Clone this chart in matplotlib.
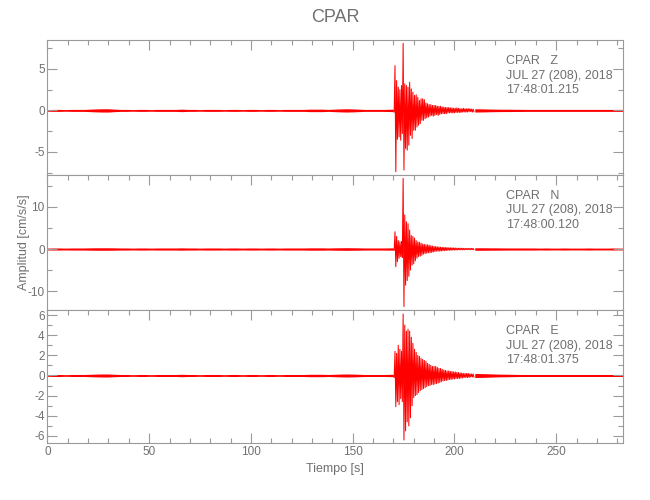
import numpy as np
import matplotlib
matplotlib.use('Agg')
import matplotlib.pyplot as plt
from matplotlib.ticker import MultipleLocator

plt.rcParams['font.family'] = ['Liberation Sans', 'DejaVu Sans']
plt.rcParams['axes.unicode_minus'] = False

# sample times (s): quiet part (noise level), event part (peaks), coda (noise level)
t_pre = [0, 3, 6, 9, 12, 15, 18, 21, 24, 27, 30, 33, 36, 39, 42, 45, 48, 51, 54, 57,
         60, 63, 66, 69, 72, 75, 78, 81, 84, 87, 90, 93, 96, 99, 102, 105, 108, 111, 114, 117,
         120, 123, 126, 129, 132, 135, 138, 141, 144, 147, 150, 153, 156, 159, 162, 165, 170]
t_evt = [170.4, 170.8, 171.2, 171.6, 172.0, 172.4, 172.8, 173.2, 173.6, 174.0,
         174.4, 174.8, 175.2, 175.6, 176.0, 176.4, 176.8, 177.2, 177.6, 178.0,
         178.4, 178.8, 179.2, 179.6, 180.0, 180.4, 180.8, 181.2, 181.6, 182.0,
         182.4, 182.8, 183.2, 183.6, 184.0, 184.4, 184.8, 185.2, 185.6, 186.0,
         186.4, 186.8, 187.2, 187.6, 188.0, 188.4, 188.8, 189.2, 189.6, 190.0,
         190.4, 190.8, 191.2, 191.6, 192.0, 192.4, 192.8, 193.2, 193.6, 194.0,
         194.4, 194.8, 195.2, 195.6, 196.0, 196.4, 196.8, 197.2, 197.6, 198.0,
         198.4, 198.8, 199.2, 199.6, 200.0, 200.4, 200.8, 201.2, 201.6, 202.0,
         202.4, 202.8, 203.2, 203.6, 204.0, 204.4, 204.8, 205.2, 205.6, 206.0,
         206.4, 206.8, 207.2, 207.6, 208.0, 208.4, 208.8, 209.2, 209.6]
t_post = [210, 215, 218, 221, 224, 227, 230, 233, 236, 239, 242, 245, 248, 251,
          254, 257, 260, 263, 266, 269, 272, 275, 278, 281, 282.6]

# Z component (cm/s/s)
z_pre = [0.1, 0.12, 0.12, 0.1, 0.12, 0.12, 0.12, 0.15, 0.18, 0.2,
         0.2, 0.15, 0.12, 0.12, 0.1, 0.12, 0.12, 0.1, 0.12, 0.12,
         0.12, 0.12, 0.15, 0.12, 0.12, 0.1, 0.12, 0.12, 0.12, 0.1,
         0.12, 0.12, 0.1, 0.12, 0.12, 0.1, 0.12, 0.12, 0.1, 0.12,
         0.12, 0.12, 0.12, 0.15, 0.15, 0.15, 0.12, 0.15, 0.18, 0.2,
         0.18, 0.15, 0.12, 0.12, 0.12, 0.12, 0.15]
z_evt = [-0.2, 5.4, -7.4, 3.6, -3.5, 2.8, -3.2, 2.5, -3.6, 3.0,
         -2.8, 8.1, -7.2, 3.2, -4.6, 3.0, -4.8, 2.8, -4.2, 3.4,
         -3.0, 2.6, -3.4, 2.2, -2.4, 1.8, -2.4, 1.9, -2.0, 1.6,
         -1.8, 1.2, -1.6, 1.4, -1.2, 1.4, -1.2, 1.3, -1.0, 0.9,
         -0.9, 0.8, -0.8, 0.7, -0.7, 0.7, -0.6, 0.6, -0.7, 0.6,
         -0.6, 0.6, -0.5, 0.5, -0.6, 0.5, -0.5, 0.5, -0.4, 0.4,
         -0.4, 0.4, -0.4, 0.35, -0.4, 0.35, -0.3, 0.35, -0.3, 0.3,
         -0.3, 0.3, -0.3, 0.25, -0.3, 0.25, -0.25, 0.3, -0.25, 0.25,
         -0.25, 0.2, -0.25, 0.2, -0.2, 0.25, -0.2, 0.2, -0.2, 0.2,
         -0.2, 0.2, -0.15, 0.2, -0.15, 0.15, -0.2, 0.15, -0.15]
z_post = [0.2, 0.18, 0.16, 0.15, 0.14, 0.14, 0.13, 0.13, 0.12, 0.12,
          0.12, 0.12, 0.12, 0.12, 0.12, 0.12, 0.12, 0.12, 0.12, 0.12,
          0.12, 0.12, 0.12, 0.12, 0.12]

# N component
n_pre = [0.22, 0.25, 0.25, 0.22, 0.25, 0.25, 0.25, 0.28, 0.3, 0.3,
         0.3, 0.28, 0.25, 0.25, 0.22, 0.25, 0.25, 0.22, 0.25, 0.25,
         0.25, 0.25, 0.28, 0.25, 0.25, 0.22, 0.25, 0.25, 0.25, 0.22,
         0.25, 0.25, 0.22, 0.25, 0.25, 0.22, 0.25, 0.25, 0.22, 0.25,
         0.25, 0.25, 0.25, 0.28, 0.28, 0.28, 0.25, 0.28, 0.3, 0.32,
         0.3, 0.28, 0.25, 0.25, 0.25, 0.25, 0.28]
n_evt = [-0.3, 4.1, -4.2, 3.0, -3.0, 2.0, -2.2, 1.7, -1.8, 1.8,
         -2.0, 16.8, -13.7, 8.1, -8.6, 6.5, -7.5, 6.0, -6.5, 4.5,
         -5.0, 3.2, -3.8, 3.0, -3.5, 2.6, -2.8, 2.0, -2.2, 1.7,
         -1.8, 1.6, -1.7, 1.4, -1.5, 1.2, -1.2, 1.1, -1.1, 1.0,
         -1.0, 1.0, -0.9, 0.9, -0.9, 0.8, -0.8, 0.7, -0.7, 0.6,
         -0.6, 0.6, -0.5, 0.5, -0.5, 0.5, -0.5, 0.45, -0.45, 0.4,
         -0.4, 0.4, -0.4, 0.35, -0.35, 0.35, -0.3, 0.3, -0.3, 0.3,
         -0.3, 0.3, -0.25, 0.25, -0.25, 0.25, -0.25, 0.2, -0.2, 0.2,
         -0.2, 0.2, -0.2, 0.2, -0.2, 0.15, -0.2, 0.15, -0.15, 0.15,
         -0.15, 0.15, -0.15, 0.15, -0.15, 0.15, -0.15, 0.15, -0.15]
n_post = [0.3, 0.3, 0.28, 0.28, 0.26, 0.25, 0.25, 0.25, 0.25, 0.25,
          0.22, 0.25, 0.22, 0.22, 0.25, 0.22, 0.22, 0.22, 0.25, 0.22,
          0.22, 0.22, 0.25, 0.22, 0.22]

# E component
e_pre = [0.08, 0.1, 0.1, 0.08, 0.1, 0.1, 0.1, 0.12, 0.14, 0.15,
         0.15, 0.12, 0.1, 0.1, 0.08, 0.1, 0.1, 0.08, 0.1, 0.1,
         0.1, 0.1, 0.12, 0.1, 0.1, 0.08, 0.1, 0.1, 0.1, 0.08,
         0.1, 0.1, 0.08, 0.1, 0.1, 0.08, 0.1, 0.1, 0.08, 0.1,
         0.1, 0.1, 0.1, 0.12, 0.12, 0.12, 0.1, 0.12, 0.14, 0.15,
         0.14, 0.12, 0.1, 0.1, 0.1, 0.1, 0.12]
e_evt = [-0.2, 2.4, -3.1, 2.2, -2.6, 3.0, -2.9, 2.6, -2.3, 2.4,
         -2.6, 6.1, -6.4, 5.0, -5.5, 4.4, -4.6, 4.6, -5.0, 4.4,
         -4.2, 3.8, -3.0, 3.2, -2.2, 2.6, -2.0, 2.3, -1.9, 2.0,
         -1.7, 1.9, -1.5, 1.7, -1.4, 1.6, -1.3, 1.5, -1.2, 1.4,
         -1.1, 1.2, -1.0, 1.1, -1.0, 1.0, -0.9, 0.9, -0.9, 0.9,
         -0.85, 0.9, -0.8, 0.8, -0.75, 0.7, -0.7, 0.7, -0.6, 0.6,
         -0.55, 0.55, -0.5, 0.5, -0.5, 0.45, -0.45, 0.45, -0.4, 0.4,
         -0.4, 0.4, -0.35, 0.35, -0.35, 0.35, -0.3, 0.3, -0.3, 0.3,
         -0.3, 0.25, -0.25, 0.25, -0.25, 0.2, -0.2, 0.2, -0.2, 0.2,
         -0.2, 0.2, -0.2, 0.15, -0.15, 0.15, -0.15, 0.15, -0.15]
e_post = [0.2, 0.18, 0.16, 0.14, 0.13, 0.12, 0.11, 0.1, 0.1, 0.1,
          0.1, 0.1, 0.1, 0.1, 0.1, 0.1, 0.1, 0.1, 0.1, 0.1,
          0.1, 0.1, 0.1, 0.1, 0.1]

components = ['Z', 'N', 'E']
start_times = ['17:48:01.215', '17:48:00.120', '17:48:01.375']
date_str = 'JUL 27 (208), 2018'

noise_pre = [z_pre, n_pre, e_pre]
events = [z_evt, n_evt, e_evt]
noise_post = [z_post, n_post, e_post]

ylims = [(-7.8, 8.5), (-14.5, 17.6), (-6.7, 6.5)]
ysteps = [(5, 2.5), (10, 5), (2, 1)]
boxes = [(0.073, 0.65, 0.885, 0.27),
         (0.073, 0.38, 0.885, 0.27),
         (0.073, 0.114, 0.885, 0.266)]

axis_col = '#9a9a9a'
text_col = '#707070'

fig = plt.figure(figsize=(6.5, 5), dpi=100)

for i in range(3):
    ax = fig.add_axes(boxes[i])
    # quiet parts drawn as the noise band, the event as the peak-to-peak trace
    pre = np.array(noise_pre[i])
    post = np.array(noise_post[i])
    ax.fill_between(t_pre, -pre, pre, color='red', lw=0)
    ax.plot(t_evt, events[i], color='red', lw=0.75)
    ax.fill_between(t_post, -post, post, color='red', lw=0)
    ax.set_xlim(0, 282.7)
    ax.set_ylim(ylims[i])
    ax.xaxis.set_major_locator(MultipleLocator(50))
    ax.xaxis.set_minor_locator(MultipleLocator(10))
    ax.yaxis.set_major_locator(MultipleLocator(ysteps[i][0]))
    ax.yaxis.set_minor_locator(MultipleLocator(ysteps[i][1]))
    ax.tick_params(which='both', direction='in', top=True, right=True,
                   bottom=(i == 2), color=axis_col, labelcolor=text_col,
                   labelsize=8.5, width=0.8)
    ax.tick_params(which='major', length=7, pad=2)
    ax.tick_params(which='minor', length=3.5)
    if i < 2:
        ax.tick_params(labelbottom=False)
    for sp in ax.spines.values():
        sp.set_color(axis_col)
        sp.set_linewidth(0.8)
    h = boxes[i][3] * 500
    ax.text(0.797, 1 - 21 / h, 'CPAR   ' + components[i], transform=ax.transAxes,
            va='center', ha='left', fontsize=9, color=text_col)
    ax.text(0.797, 1 - 35.5 / h, date_str, transform=ax.transAxes,
            va='center', ha='left', fontsize=9, color=text_col)
    ax.text(0.797, 1 - 50 / h, start_times[i], transform=ax.transAxes,
            va='center', ha='left', fontsize=9, color=text_col)

fig.text(335 / 650, 1 - 18 / 500, 'CPAR', ha='center', va='center',
         fontsize=13, color=text_col)
fig.text(24 / 650, 1 - 242 / 500, 'Amplitud [cm/s/s]', rotation=90,
         ha='center', va='center', fontsize=9, color=text_col)
fig.text(335 / 650, 1 - 469 / 500, 'Tiempo [s]', ha='center', va='center',
         fontsize=9, color=text_col)

fig.savefig('out.png', dpi=100)
